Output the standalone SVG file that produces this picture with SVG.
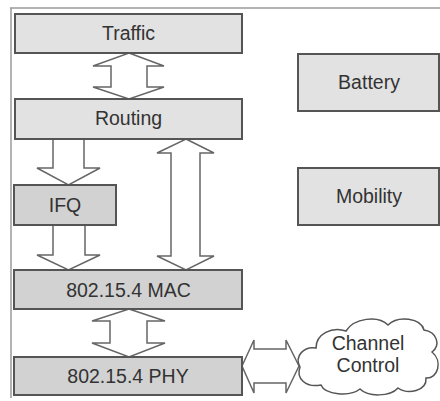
<svg xmlns="http://www.w3.org/2000/svg" width="440" height="401" viewBox="0 0 440 401">
<defs>
<style>
.frame{stroke:#9a9a9a;stroke-width:1.5;fill:none}
.box{stroke:#555;stroke-width:2;fill:#e2e2e2}
.dark{fill:#d2d2d2}
.arr{stroke:#666;stroke-width:1.5;fill:#fff;stroke-linejoin:miter}
.lbl{font-family:"Liberation Sans",Arial,sans-serif;font-size:19.5px;fill:#333;text-anchor:middle}
.cloud{stroke:#555;stroke-width:1.5;fill:#fff}
</style>
</defs>
<rect width="440" height="401" fill="#fff"/>
<g id="frame">
<line class="frame" x1="10" y1="8" x2="440" y2="8"/>
<line class="frame" x1="11" y1="8" x2="11" y2="398"/>
</g>
<g id="connectors">
<polygon class="arr" points="129,53 164,66 147,66 147,87 164,87 129,99 93,87 111,87 111,66 93,66"/>
<polygon class="arr" points="53,139 84,139 84,168 100,168 68.5,185 37,168 53,168"/>
<polygon class="arr" points="53,225 85,225 85,255 100,255 68.5,270 37,255 53,255"/>
<polygon class="arr" points="186,139 214,153 200,153 200,256 214,256 186,270 157,256 171,256 171,153 157,153"/>
<polygon class="arr" points="129,309 165,321 147,321 147,343 165,343 129,357 92,343 110,343 110,321 92,321"/>
<polygon class="arr" points="242,366 254,340 254,349 286,349 286,340 299,366 286,393 286,383 254,383 254,393"/>
</g>
<g id="traffic">
<rect class="box" x="15" y="14" width="227" height="39"/>
<text class="lbl" x="128.5" y="40">Traffic</text>
</g>
<g id="routing">
<rect class="box" x="15" y="99" width="227" height="40"/>
<text class="lbl" x="128.5" y="125">Routing</text>
</g>
<g id="ifq">
<rect class="box dark" x="14" y="185" width="102" height="40"/>
<text class="lbl" x="65" y="212">IFQ</text>
</g>
<g id="mac">
<rect class="box dark" x="14" y="270" width="228" height="39"/>
<text class="lbl" x="128.5" y="297">802.15.4 MAC</text>
</g>
<g id="phy">
<rect class="box dark" x="14" y="357" width="228" height="38"/>
<text class="lbl" x="128" y="383">802.15.4 PHY</text>
</g>
<g id="battery">
<rect class="box" x="298" y="54" width="141" height="57"/>
<text class="lbl" x="369" y="89">Battery</text>
</g>
<g id="mobility">
<rect class="box" x="298" y="168" width="141" height="57"/>
<text class="lbl" x="369" y="203">Mobility</text>
</g>
<g id="channel-control">
<path class="cloud" d="M300,367 C294,356 304,346 316,348 C316,334 332,326 346,331 C354,318 378,315 388,325 C398,315 421,318 424,330 C437,332 441,345 432,352 C443,361 438,379 426,378 C427,391 408,395 398,388 C390,397 368,397 360,389 C350,397 325,395 321,385 C305,388 296,378 300,367 Z"/>
<text class="lbl" x="368" y="350">Channel</text>
<text class="lbl" x="368" y="372">Control</text>
</g>
</svg>
